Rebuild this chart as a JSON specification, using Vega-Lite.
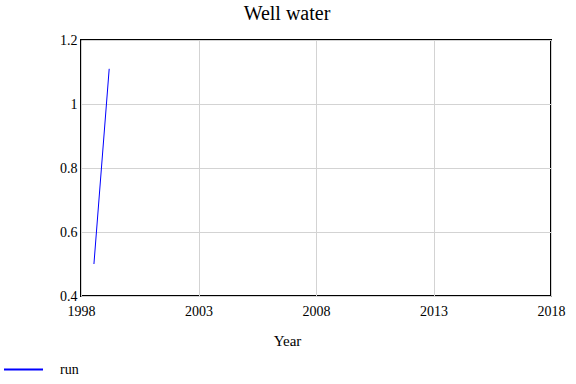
{
  "$schema": "https://vega.github.io/schema/vega-lite/v6.json",
  "autosize": {"type": "none"},
  "padding": {"left": 81, "top": 40, "right": 25, "bottom": 88},
  "width": 470,
  "height": 256,
  "background": "white",
  "title": {"text": "Well water", "font": "Liberation Serif", "fontSize": 20, "fontWeight": "normal", "color": "black", "anchor": "middle", "dx": -29, "offset": 9},
  "data": {"values": [
    {"Year": 1998.55, "value": 0.5, "series": "run"},
    {"Year": 1999.2, "value": 1.11, "series": "run"}
  ]},
  "mark": {"type": "line", "strokeWidth": 1, "clip": true},
  "encoding": {
    "x": {"field": "Year", "type": "quantitative", "scale": {"domain": [1998, 2018], "nice": false, "zero": false},
      "axis": {"values": [1998, 2003, 2008, 2013, 2018], "format": "d", "labelFlush": false, "title": "Year", "titleX": 206, "titleY": 49, "titleBaseline": "alphabetic", "labelPadding": 8,
        "labelFont": "Liberation Serif", "labelFontSize": 14, "labelColor": "black", "titleFont": "Liberation Serif", "titleFontSize": 15, "titleFontWeight": "normal", "titleColor": "black"}},
    "y": {"field": "value", "type": "quantitative", "scale": {"domain": [0.4, 1.2], "nice": false, "zero": false},
      "axis": {"values": [0.4, 0.6, 0.8, 1, 1.2], "format": "~g", "labelFlush": false, "title": null, "labelPadding": 4,
        "labelFont": "Liberation Serif", "labelFontSize": 14, "labelColor": "black"}},
    "color": {"field": "series", "type": "nominal", "scale": {"range": ["#0000ff"]},
      "legend": {"title": null, "orient": "none", "legendX": -78, "legendY": 309, "symbolType": "stroke", "symbolSize": 1521, "symbolStrokeWidth": 2, "labelOffset": 16, "labelFont": "Liberation Serif", "labelFontSize": 14, "labelColor": "black"}}
  },
  "config": {
    "font": "Liberation Serif",
    "view": {"stroke": "black", "strokeWidth": 2},
    "axis": {"domain": false, "ticks": false, "grid": true, "gridColor": "#d3d3d3", "gridWidth": 1}
  }
}
